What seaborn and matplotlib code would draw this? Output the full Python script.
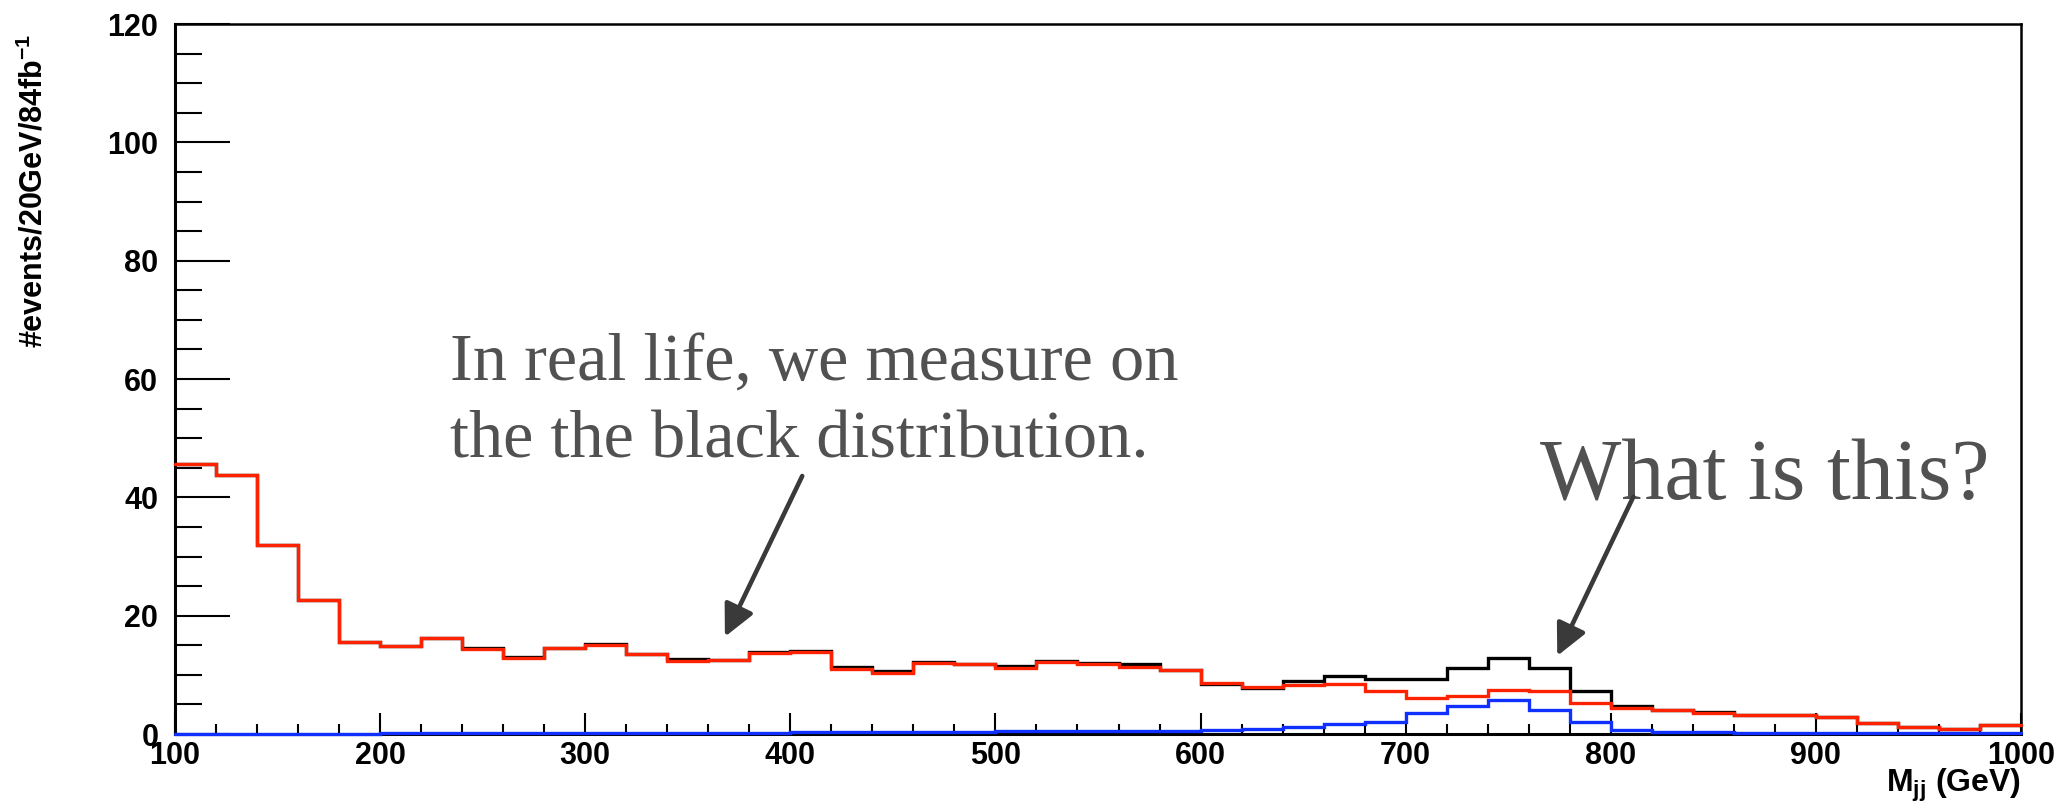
import numpy as np
import pandas as pd
import matplotlib
matplotlib.use("Agg")
import matplotlib.pyplot as plt
from matplotlib.ticker import MultipleLocator
from matplotlib import font_manager
import seaborn as sns

# ---------------- data (20 GeV bins from 100 to 1000 GeV) ----------------
x_min, x_max, bin_width = 100, 1000, 20

total = [45.6, 43.8, 32.0, 22.6, 15.6, 14.9, 16.3, 14.5, 13.0, 14.6,
         15.2, 13.6, 12.6, 12.5, 13.8, 14.0, 11.3, 10.6, 12.1, 11.9,
         11.5, 12.3, 12.0, 11.8, 10.9, 8.4, 7.7, 9.0, 9.8, 9.3,
         9.3, 11.2, 12.8, 11.1, 7.2, 4.8, 4.1, 3.7, 3.2, 3.2,
         2.9, 1.8, 1.2, 0.85, 1.5]

background = [45.6, 43.8, 32.0, 22.6, 15.6, 14.8, 16.2, 14.4, 12.9, 14.5,
              15.1, 13.5, 12.3, 12.45, 13.7, 13.8, 11.0, 10.3, 12.0, 11.8,
              11.1, 12.2, 11.9, 11.4, 10.9, 8.7, 8.0, 8.3, 8.5, 7.2,
              6.1, 6.4, 7.5, 7.2, 5.3, 4.4, 4.1, 3.6, 3.2, 3.2,
              2.9, 1.8, 1.2, 0.85, 1.5]

signal = [0.0, 0.0, 0.0, 0.0, 0.0, 0.2, 0.2, 0.2, 0.2, 0.2,
          0.2, 0.2, 0.2, 0.2, 0.2, 0.3, 0.3, 0.3, 0.3, 0.3,
          0.45, 0.45, 0.45, 0.45, 0.45, 0.7, 0.8, 1.2, 1.7, 2.1,
          3.6, 4.8, 5.7, 4.1, 2.0, 0.7, 0.3, 0.3, 0.1, 0.1,
          0.1, 0.1, 0.1, 0.1, 0.1]

x_ticks = [100, 200, 300, 400, 500, 600, 700, 800, 900, 1000]
y_ticks = [0, 20, 40, 60, 80, 100, 120]

note_text = ["In real life, we measure on", "the the black distribution."]
question_text = "What is this?"

edges = np.arange(x_min, x_max + bin_width, bin_width)
centers = edges[:-1] + bin_width / 2.0

df = pd.DataFrame({
    "mjj": np.concatenate([centers, centers, centers]),
    "events": total + background + signal,
    "hist": ["total"] * len(total) + ["background"] * len(background) + ["signal"] * len(signal),
})

# ---------------- style ----------------
sns.set_theme(style="ticks")
plt.rcParams["font.family"] = ["Liberation Sans", "DejaVu Sans"]
plt.rcParams["mathtext.fontset"] = "custom"
plt.rcParams["mathtext.rm"] = "Liberation Sans:bold"
plt.rcParams["mathtext.it"] = "Liberation Sans:bold"
plt.rcParams["mathtext.bf"] = "Liberation Sans:bold"
plt.rcParams["mathtext.default"] = "rm"

available = {f.name for f in font_manager.fontManager.ttflist}
narrow = "Liberation Sans Narrow" if "Liberation Sans Narrow" in available else None

fig = plt.figure(figsize=(20.62, 8.06), dpi=100)
ax = fig.add_axes([175 / 2062, 1 - 734 / 806, (2021 - 175) / 2062, (734 - 24) / 806])

colors = {"total": "#000000", "background": "#ff2200", "signal": "#1030ff"}
for name in ["total", "background", "signal"]:
    sub = df[df["hist"] == name]
    sns.histplot(data=sub, x="mjj", weights="events",
                 binwidth=bin_width, binrange=(x_min, x_max),
                 element="step", fill=False, color=colors[name],
                 linewidth=2.4, ax=ax)
for i, ln in enumerate(ax.lines):
    ln.set_clip_on(False)
    ln.set_solid_joinstyle("miter")
    ln.set_zorder(3 + i * 0.1)

ax.set_xlim(x_min, x_max)
ax.set_ylim(0, 120)

# spines
for side in ["left", "bottom"]:
    ax.spines[side].set_linewidth(2.2)
for side in ["top", "right"]:
    ax.spines[side].set_linewidth(1.8)
for sp in ax.spines.values():
    sp.set_color("black")
    sp.set_visible(True)

# ticks
ax.set_xticks(x_ticks)
ax.set_yticks(y_ticks)
ax.xaxis.set_minor_locator(MultipleLocator(20))
ax.yaxis.set_minor_locator(MultipleLocator(5))
ax.tick_params(axis="y", which="major", direction="in", length=39.5, width=1.5,
               pad=12, labelsize=22, left=True, right=False, color="black")
ax.tick_params(axis="y", which="minor", direction="in", length=19.5, width=1.5,
               left=True, right=False, color="black")
ax.tick_params(axis="x", which="major", direction="in", length=15, width=1.5,
               pad=5, labelsize=22, bottom=True, top=False, color="black")
ax.tick_params(axis="x", which="minor", direction="in", length=7.2, width=1.5,
               bottom=True, top=False, color="black")
for lab in ax.get_xticklabels() + ax.get_yticklabels():
    lab.set_fontweight("bold")
    lab.set_color("black")

# axis labels
ax.set_xlabel(r"M$_{\rm jj}$ (GeV)", fontsize=23, fontweight="bold",
              color="black", loc="right")
ax.xaxis.set_label_coords(1.0, -0.046)

ylab = "#events/20GeV/84fb$^{-1}$"
if narrow:
    ax.set_ylabel(ylab, fontsize=24.5, fontweight="bold", family=narrow,
                  color="black", loc="top")
else:
    ax.set_ylabel(ylab, fontsize=22, fontweight="bold", color="black", loc="top")
ax.yaxis.set_label_coords(-0.068, 0.987)

# annotations
text_color = "#515151"
arrow_color = "#3a3a3a"
ax.text(234.3, 59.66, note_text[0], fontsize=49.2, family="Liberation Serif",
        color=text_color, va="baseline", ha="left")
ax.text(234.3, 46.7, note_text[1], fontsize=49.2, family="Liberation Serif",
        color=text_color, va="baseline", ha="left")
ax.text(765.7, 39.55, question_text, fontsize=62, family="Liberation Serif",
        color=text_color, va="baseline", ha="left")

arrow_kw = dict(arrowstyle="-|>,head_length=0.55,head_width=0.27",
                mutation_scale=35, lw=3.3, color=arrow_color,
                shrinkA=0, shrinkB=0)
ax.annotate("", xy=(368.1, 16.44), xytext=(405.8, 43.6), arrowprops=arrow_kw)
ax.annotate("", xy=(773.9, 13.2), xytext=(811.0, 40.1), arrowprops=arrow_kw)

fig.savefig("out.png", dpi=100, facecolor="white")
